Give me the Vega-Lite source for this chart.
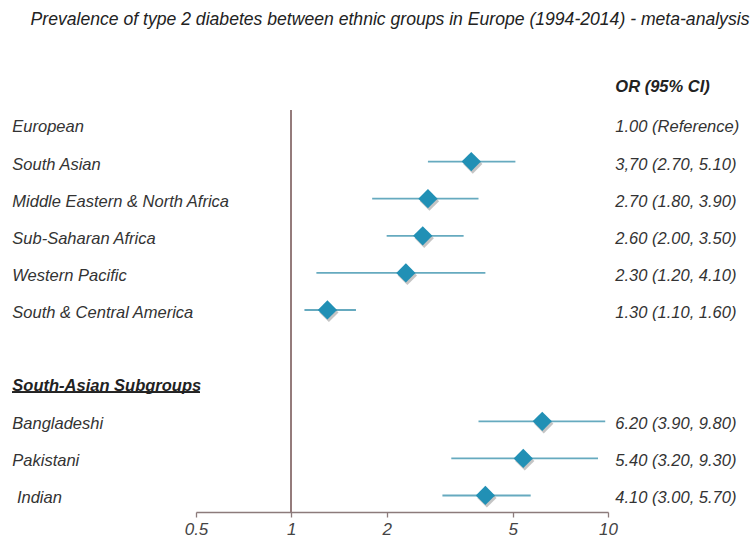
{
  "$schema": "https://vega.github.io/schema/vega-lite/v6.json",
  "autosize": {"type": "none"},
  "width": 412,
  "height": 402,
  "padding": {"left": 196, "top": 110, "right": 144, "bottom": 29},
  "background": "white",
  "title": {
    "text": "Prevalence of type 2 diabetes between ethnic groups in Europe (1994-2014) - meta-analysis",
    "frame": "group",
    "anchor": "middle",
    "dx": -12,
    "offset": 51,
    "font": "Liberation Sans",
    "fontSize": 17.6,
    "fontStyle": "italic",
    "fontWeight": "normal",
    "color": "#222222"
  },
  "config": {
    "view": {"stroke": null},
    "text": {"font": "Liberation Sans", "fontSize": 16.5, "fontStyle": "italic", "color": "#333333"}
  },
  "data": {
    "values": [
      {"row": 0, "type": "header", "label": "", "ortext": "OR (95% CI)"},
      {"row": 1, "type": "item", "label": "European", "ortext": "1.00 (Reference)"},
      {"row": 2, "type": "item", "label": "South Asian", "or": 3.7, "lo": 2.7, "hi": 5.1, "ortext": "3,70 (2.70, 5.10)"},
      {"row": 3, "type": "item", "label": "Middle Eastern & North Africa", "or": 2.7, "lo": 1.8, "hi": 3.9, "ortext": "2.70 (1.80, 3.90)"},
      {"row": 4, "type": "item", "label": "Sub-Saharan Africa", "or": 2.6, "lo": 2.0, "hi": 3.5, "ortext": "2.60 (2.00, 3.50)"},
      {"row": 5, "type": "item", "label": "Western Pacific", "or": 2.3, "lo": 1.2, "hi": 4.1, "ortext": "2.30 (1.20, 4.10)"},
      {"row": 6, "type": "item", "label": "South & Central America", "or": 1.3, "lo": 1.1, "hi": 1.6, "ortext": "1.30 (1.10, 1.60)"},
      {"row": 8, "type": "header", "label": "South-Asian Subgroups", "ortext": ""},
      {"row": 9, "type": "item", "label": "Bangladeshi", "or": 6.2, "lo": 3.9, "hi": 9.8, "ortext": "6.20 (3.90, 9.80)"},
      {"row": 10, "type": "item", "label": "Pakistani", "or": 5.4, "lo": 3.2, "hi": 9.3, "ortext": "5.40 (3.20, 9.30)"},
      {"row": 11, "type": "item", "label": "\u200b\u00a0Indian", "or": 4.1, "lo": 3.0, "hi": 5.7, "ortext": "4.10 (3.00, 5.70)"}
    ]
  },
  "encoding": {
    "y": {"field": "row", "type": "quantitative", "scale": {"domain": [0.61, 11.445], "reverse": true, "nice": false, "zero": false}, "axis": null}
  },
  "layer": [
    {
      "mark": {"type": "rule", "color": "#957b7b", "strokeWidth": 1.3},
      "encoding": {
        "x": {"datum": 1, "type": "quantitative", "scale": {"type": "log", "domain": [0.5, 10], "nice": false},
          "axis": {"values": [0.5, 1, 2, 5, 10], "format": "~g", "title": null, "grid": false, "labelFlush": false,
            "domainColor": "#8c7b7b", "domainWidth": 1.3, "tickColor": "#8c7b7b", "tickWidth": 1.3, "tickSize": 5,
            "labelFont": "Liberation Sans", "labelFontSize": 17, "labelFontStyle": "italic", "labelColor": "#444444", "labelPadding": 4}},
        "y": null
      }
    },
    {
      "transform": [{"filter": "isValid(datum.lo)"}],
      "mark": {"type": "rule", "color": "#66aabf", "strokeWidth": 1.8},
      "encoding": {
        "x": {"field": "lo", "type": "quantitative"},
        "x2": {"field": "hi"}
      }
    },
    {
      "transform": [{"filter": "isValid(datum.or)"}],
      "mark": {"type": "point", "shape": "diamond", "filled": true, "size": 370, "color": "#555555", "opacity": 0.35, "xOffset": 1.5, "yOffset": 2.5},
      "encoding": {"x": {"field": "or", "type": "quantitative"}}
    },
    {
      "transform": [{"filter": "isValid(datum.or)"}],
      "mark": {"type": "point", "shape": "diamond", "filled": true, "size": 370, "color": "#2190b5", "opacity": 1},
      "encoding": {"x": {"field": "or", "type": "quantitative"}}
    },
    {
      "transform": [{"filter": "datum.type == 'item'"}],
      "mark": {"type": "text", "align": "left", "baseline": "middle", "dy": 3},
      "encoding": {"x": {"datum": 0.1315, "type": "quantitative"}, "text": {"field": "label"}}
    },
    {
      "transform": [{"filter": "datum.type == 'header'"}],
      "mark": {"type": "text", "align": "left", "baseline": "middle", "dy": 2, "fontWeight": "bold", "color": "#222222"},
      "encoding": {"x": {"datum": 0.1315, "type": "quantitative"}, "text": {"field": "label"}}
    },
    {
      "transform": [{"filter": "datum.type == 'item'"}],
      "mark": {"type": "text", "align": "left", "baseline": "middle", "dy": 3},
      "encoding": {"x": {"datum": 10.55, "type": "quantitative"}, "text": {"field": "ortext"}}
    },
    {
      "transform": [{"filter": "datum.type == 'header'"}],
      "mark": {"type": "text", "align": "left", "baseline": "middle", "dy": 0, "fontWeight": "bold", "color": "#222222"},
      "encoding": {"x": {"datum": 10.55, "type": "quantitative"}, "text": {"field": "ortext"}}
    },
    {
      "mark": {"type": "rule", "color": "#222222", "strokeWidth": 1.2},
      "encoding": {
        "x": {"datum": 0.1315, "type": "quantitative"},
        "x2": {"datum": 0.513},
        "y": {"datum": 8.22, "type": "quantitative"}
      }
    }
  ]
}
